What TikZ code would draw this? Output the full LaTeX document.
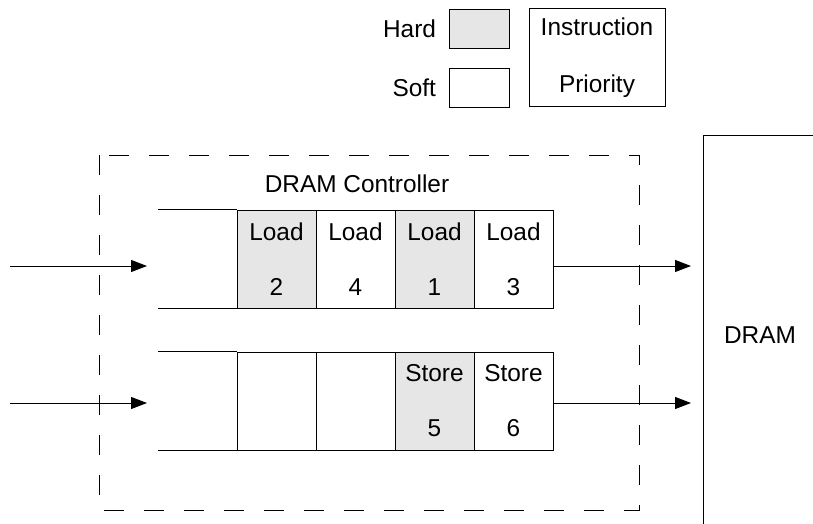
\documentclass[tikz,border=0pt]{standalone}
\usepackage{fontspec}
\setmainfont{Liberation Sans}
\usetikzlibrary{positioning,arrows.meta}
\definecolor{hardgray}{RGB}{230,230,230}

\begin{document}
\begin{tikzpicture}[x=0.5pt, y=-0.5pt, line width=0.5pt,
    font=\fontsize{12.2}{14}\selectfont, >={Triangle[length=8pt,width=6pt]},
    cell/.style={draw, minimum width=39.5pt, minimum height=49pt, inner sep=0pt, align=center},
    hard/.style={cell, fill=hardgray},
    soft/.style={cell, fill=white}]
  \useasboundingbox (0,0) rectangle (813,524);
  % legend
  \node[draw, fill=hardgray, minimum width=30pt, minimum height=19.5pt] (hardbox) at (479,29) {};
  \node[draw, minimum width=30pt, minimum height=19.5pt] (softbox) at (479,88) {};
  \node[left=6pt of hardbox, inner sep=0pt] (hardlbl) {Hard};
  \node[left=6pt of softbox, inner sep=0pt] (softlbl) {Soft};
  \node[draw, minimum width=68pt, minimum height=49pt, align=center] (prio) at (597,58)
     {Instruction\\[14.5pt]Priority};
  % controller
  \draw[dash pattern=on 10pt off 10pt] (99,155) rectangle (639,510);
  \node (ctrl) at (357,184) {DRAM Controller};
  % load queue
  \foreach \i/\x/\s/\n in {1/276.5/hard/2, 2/355.5/soft/4, 3/434.5/hard/1, 4/513.5/soft/3}{
     \node[\s] (ld\i) at (\x,259) {Load\\[13.5pt]\n};
  }
  \draw (ld1.north west) -- ++(-79,0);
  \draw (ld1.south west) -- ++(-79,0);
  % store queue
  \node[cell] (st1) at (276.5,401) {};
  \node[cell] (st2) at (355.5,401) {};
  \node[hard] (st3) at (434.5,401) {Store\\[13.5pt]5};
  \node[soft] (st4) at (513.5,401) {Store\\[13.5pt]6};
  \draw (st1.north west) -- ++(-79,0);
  \draw (st1.south west) -- ++(-79,0);
  % arrows in and out
  \coordinate (inld) at (10,266);
  \coordinate (inldend) at (147,266);
  \coordinate (inst) at (10,403);
  \coordinate (instend) at (147,403);
  \coordinate (outld) at (691,266);
  \coordinate (outst) at (691,403);
  \draw[->] (inld) -- (inldend);
  \draw[->] (inst) -- (instend);
  \draw[->] (ld4.east |- outld) -- (outld);
  \draw[->] (st4.east |- outst) -- (outst);
  % DRAM
  \draw (813,135) -- (703,135) -- (703,524);
  \node (dram) at (760,335) {DRAM};
\end{tikzpicture}
\end{document}
